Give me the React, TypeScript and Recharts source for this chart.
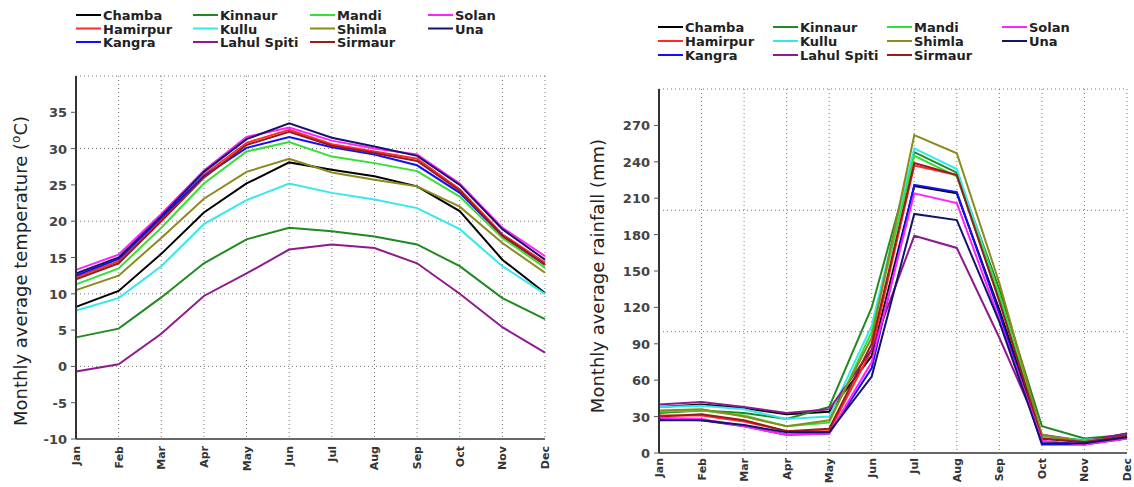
import React from 'react';
import { LineChart, Line, XAxis, YAxis, CartesianGrid } from 'recharts';

const MONTHS = ['Jan', 'Feb', 'Mar', 'Apr', 'May', 'Jun', 'Jul', 'Aug', 'Sep', 'Oct', 'Nov', 'Dec'];

const DISTRICTS = ['Chamba', 'Hamirpur', 'Kangra', 'Kinnaur', 'Kullu', 'Lahul Spiti', 'Mandi', 'Shimla', 'Sirmaur', 'Solan', 'Una'];

const COLORS: Record<string, string> = {
  Chamba: '#000000',
  Hamirpur: '#ff2a2a',
  Kangra: '#1010ff',
  Kinnaur: '#1f8a1f',
  Kullu: '#33e8ee',
  'Lahul Spiti': '#8e1a8e',
  Mandi: '#33e033',
  Shimla: '#8c8a1c',
  Sirmaur: '#991c1c',
  Solan: '#ff22ff',
  Una: '#14146e',
};

// legend columns, top to bottom
const LEGEND_COLS = [
  ['Chamba', 'Hamirpur', 'Kangra'],
  ['Kinnaur', 'Kullu', 'Lahul Spiti'],
  ['Mandi', 'Shimla', 'Sirmaur'],
  ['Solan', 'Una'],
];

// monthly average temperature (deg C)
const tempChamba = [8.2, 10.4, 15.5, 21.2, 25.2, 28.1, 27.1, 26.2, 24.8, 21.4, 14.7, 10.1];
const tempHamirpur = [12.3, 14.5, 20.3, 26.4, 30.8, 32.6, 30.6, 29.6, 28.6, 24.4, 18.2, 14.3];
const tempKangra = [12.5, 14.8, 20.5, 26.2, 30.1, 31.6, 30.2, 29.2, 27.7, 23.9, 18.0, 14.0];
const tempKinnaur = [4.0, 5.2, 9.5, 14.2, 17.5, 19.1, 18.6, 17.9, 16.8, 13.8, 9.4, 6.5];
const tempKullu = [7.7, 9.4, 13.8, 19.6, 22.9, 25.2, 23.9, 23.0, 21.8, 18.9, 13.8, 10.0];
const tempLahul = [-0.7, 0.3, 4.5, 9.7, 12.8, 16.1, 16.8, 16.3, 14.2, 10.0, 5.4, 1.9];
const tempMandi = [11.3, 13.5, 19.1, 25.2, 29.6, 30.9, 28.9, 28.0, 26.9, 23.4, 17.7, 13.6];
const tempShimla = [10.5, 12.5, 17.7, 23.1, 26.8, 28.6, 26.7, 25.7, 24.8, 22.0, 17.0, 12.9];
const tempSirmaur = [12.0, 14.2, 20.0, 26.0, 30.5, 32.3, 30.4, 29.4, 28.3, 24.2, 18.0, 14.0];
const tempSolan = [13.3, 15.4, 21.0, 27.0, 31.6, 32.9, 31.1, 30.0, 29.2, 25.2, 19.1, 15.2];
const tempUna = [12.8, 15.0, 20.7, 26.8, 31.3, 33.5, 31.5, 30.3, 29.0, 25.0, 18.9, 14.7];

// monthly average rainfall (mm)
const rainChamba = [38, 40, 37, 32, 34, 80, 220, 214, 118, 12, 9, 16];
const rainHamirpur = [31, 31, 26, 18, 18, 85, 237, 229, 128, 14, 9, 14];
const rainKangra = [28, 27, 22, 15, 16, 70, 221, 215, 115, 7, 7, 12];
const rainKinnaur = [33, 35, 33, 28, 38, 120, 248, 231, 135, 22, 12, 15];
const rainKullu = [38, 39, 36, 28, 30, 105, 251, 234, 130, 13, 11, 13];
const rainLahul = [40, 42, 38, 33, 36, 85, 179, 169, 95, 15, 10, 16];
const rainMandi = [34, 35, 31, 22, 25, 100, 245, 228, 130, 14, 10, 13];
const rainShimla = [35, 36, 30, 22, 27, 95, 262, 247, 140, 15, 9, 13];
const rainSirmaur = [30, 32, 27, 18, 20, 90, 239, 229, 125, 12, 9, 14];
const rainSolan = [29, 28, 22, 15, 16, 75, 214, 206, 110, 10, 7, 12];
const rainUna = [27, 27, 23, 17, 17, 63, 197, 192, 108, 8, 8, 13];

const TEMP: Record<string, number[]> = {
  Chamba: tempChamba, Hamirpur: tempHamirpur, Kangra: tempKangra, Kinnaur: tempKinnaur,
  Kullu: tempKullu, 'Lahul Spiti': tempLahul, Mandi: tempMandi, Shimla: tempShimla,
  Sirmaur: tempSirmaur, Solan: tempSolan, Una: tempUna,
};
const RAIN: Record<string, number[]> = {
  Chamba: rainChamba, Hamirpur: rainHamirpur, Kangra: rainKangra, Kinnaur: rainKinnaur,
  Kullu: rainKullu, 'Lahul Spiti': rainLahul, Mandi: rainMandi, Shimla: rainShimla,
  Sirmaur: rainSirmaur, Solan: rainSolan, Una: rainUna,
};

const TEMP_TICKS = [-10, -5, 0, 5, 10, 15, 20, 25, 30, 35];
const RAIN_TICKS = [0, 30, 60, 90, 120, 150, 180, 210, 240, 270];

const buildRows = (src: Record<string, number[]>) =>
  MONTHS.map((m, i) => {
    const row: any = { month: m };
    DISTRICTS.forEach((d) => { row[d] = src[d][i]; });
    return row;
  });

const tempData = buildRows(TEMP);
const rainData = buildRows(RAIN);

const FONT = '"DejaVu Sans", Verdana, sans-serif';

const MonthTick = ({ x, y, payload }: any) => (
  <text
    x={x}
    y={y}
    dx={-1}
    dy={4}
    transform={`rotate(-90 ${x} ${y})`}
    textAnchor="end"
    fontFamily={FONT}
    fontWeight="bold"
    fontSize={11}
    fill="#333"
  >
    {payload.value}
  </text>
);

const ValueTick = ({ x, y, payload }: any) => (
  <text x={x} y={y} dx={-2} dy={5} textAnchor="end" fontFamily={FONT} fontWeight="bold" fontSize={13} fill="#444">
    {payload.value}
  </text>
);

function Legend({ left, top, colGap, rowGap }: { left: number; top: number; colGap: number[]; rowGap: number }) {
  return (
    <svg width={480} height={50} style={{ position: 'absolute', left, top }}>
      {LEGEND_COLS.map((col, ci) =>
        col.map((name, ri) => {
          const x = colGap[ci];
          const y = 7 + ri * rowGap;
          return (
            <g key={name}>
              <line x1={x} x2={x + 25} y1={y} y2={y} stroke={COLORS[name]} strokeWidth={2} />
              <text x={x + 27} y={y + 5} fontFamily={FONT} fontWeight="bold" fontSize={13} fill="#222">
                {name}
              </text>
            </g>
          );
        })
      )}
    </svg>
  );
}

export default function App() {
  return (
    <div style={{ position: 'absolute', left: 0, top: 0, width: 1134, height: 487, background: '#fff', overflow: 'hidden' }}>
      <Legend left={76} top={8} colGap={[0, 117, 234, 352]} rowGap={13.5} />
      <Legend left={658} top={20} colGap={[0, 115, 229, 344]} rowGap={14} />

      <div style={{ position: 'absolute', left: 0, top: 0 }}>
        <LineChart width={560} height={487} data={tempData} margin={{ top: 76, right: 15, bottom: 8, left: 36 }}>
          <CartesianGrid
            stroke="#777"
            strokeDasharray="1 3"
            horizontalValues={[0, 10, 20, 30, 40]}
          />
          <XAxis
            dataKey="month"
            interval={0}
            tick={<MonthTick />}
            tickLine={false}
            tickSize={0}
            tickMargin={6}
            height={40}
            axisLine={{ stroke: '#666', strokeWidth: 2 }}
          />
          <YAxis
            domain={[-10, 40]}
            ticks={TEMP_TICKS}
            allowDataOverflow
            width={40}
            tick={<ValueTick />}
            tickSize={5}
            tickLine={{ stroke: '#555' }}
            axisLine={{ stroke: '#333', strokeWidth: 2 }}
            label={{
              content: () => (
                <text
                  x={27}
                  y={271}
                  transform="rotate(-90 27 271)"
                  textAnchor="middle"
                  fontFamily={FONT}
                  fontSize={18}
                  fill="#222"
                >
                  Monthly average temperature (<tspan dy={-7} fontSize={12}>o</tspan><tspan dy={7}>C)</tspan>
                </text>
              ),
            }}
          />
          {DISTRICTS.map((d) => (
            <Line key={d} type="linear" dataKey={d} stroke={COLORS[d]} strokeWidth={2} dot={false} isAnimationActive={false} />
          ))}
        </LineChart>
      </div>

      <div style={{ position: 'absolute', left: 570, top: 0 }}>
        <LineChart width={564} height={487} data={rainData} margin={{ top: 89, right: 7, bottom: 4, left: 49 }}>
          <CartesianGrid
            stroke="#777"
            strokeDasharray="1 3"
            horizontalValues={[100, 200, 300]}
          />
          <XAxis
            dataKey="month"
            interval={0}
            tick={<MonthTick />}
            tickLine={false}
            tickSize={0}
            tickMargin={4}
            height={30}
            axisLine={{ stroke: '#666', strokeWidth: 2 }}
          />
          <YAxis
            domain={[0, 300]}
            ticks={RAIN_TICKS}
            allowDataOverflow
            width={40}
            tick={<ValueTick />}
            tickSize={5}
            tickLine={{ stroke: '#555' }}
            axisLine={{ stroke: '#333', strokeWidth: 2 }}
            label={{
              content: () => (
                <text
                  x={34}
                  y={276}
                  transform="rotate(-90 34 276)"
                  textAnchor="middle"
                  fontFamily={FONT}
                  fontSize={18}
                  fill="#222"
                >
                  Monthly average rainfall (mm)
                </text>
              ),
            }}
          />
          {DISTRICTS.map((d) => (
            <Line key={d} type="linear" dataKey={d} stroke={COLORS[d]} strokeWidth={2} dot={false} isAnimationActive={false} />
          ))}
        </LineChart>
      </div>
    </div>
  );
}
